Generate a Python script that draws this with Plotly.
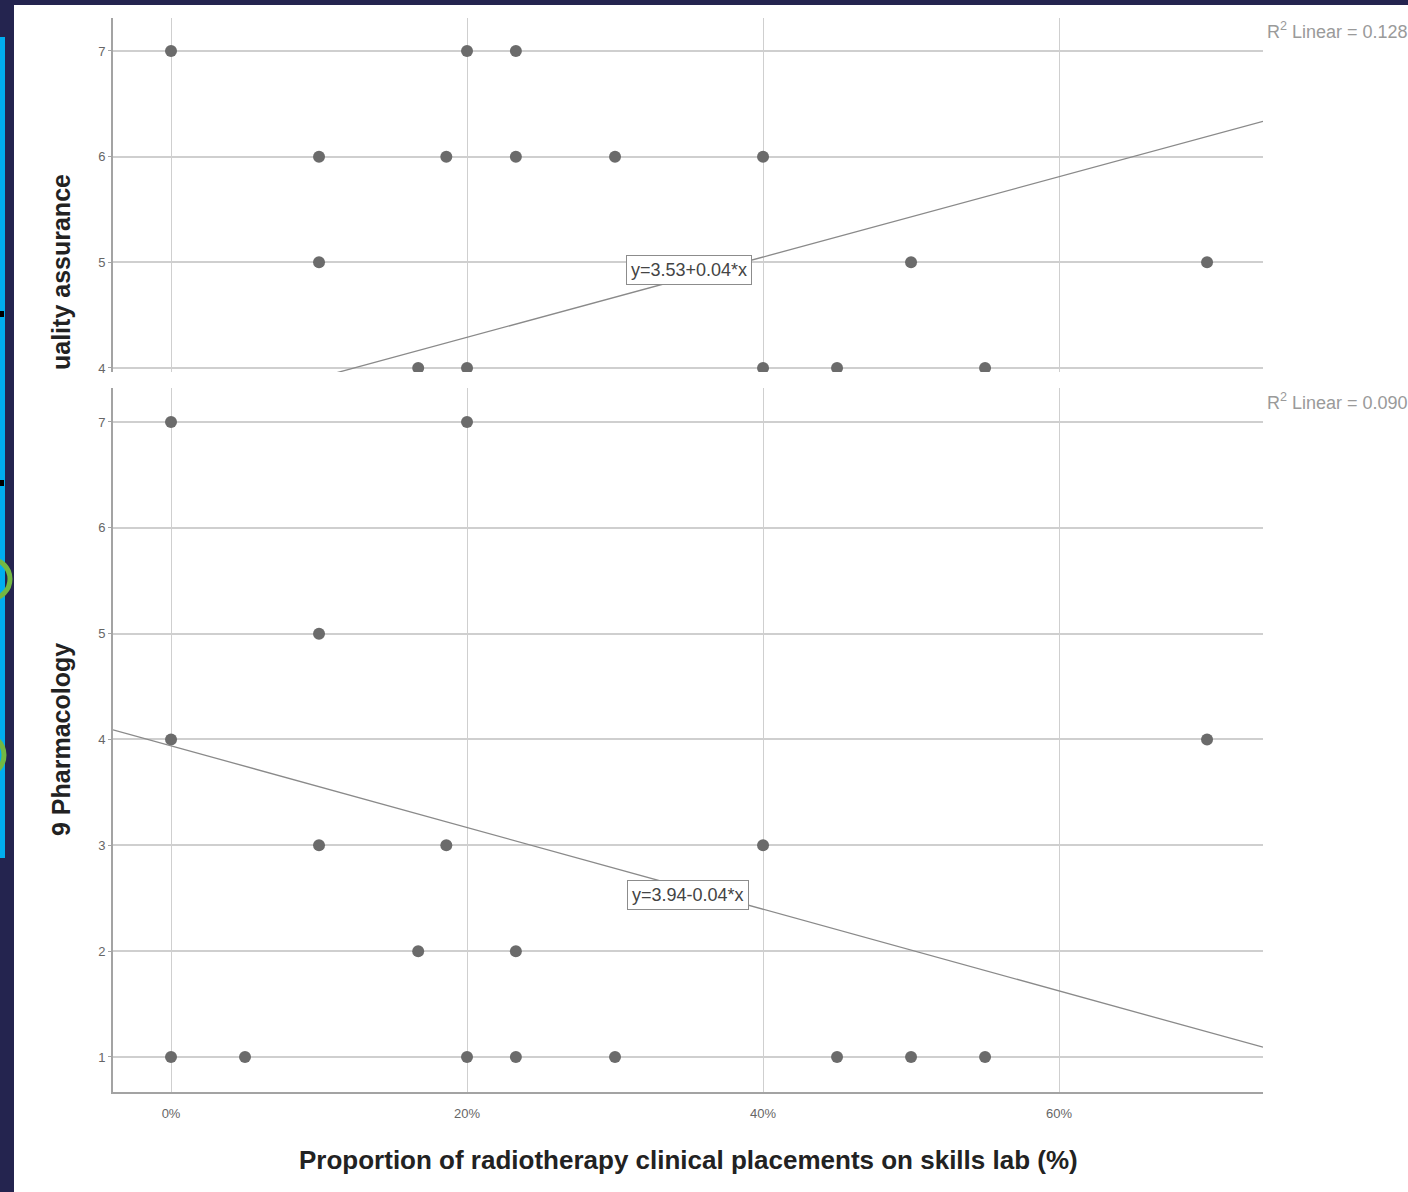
import numpy as np
import plotly.graph_objects as go

# ---------------- data ----------------
qa_x = [0, 20, 23.3, 10, 18.6, 23.3, 30, 40, 10, 50, 70, 16.7, 20, 40, 45, 55]
qa_y = [7, 7, 7, 6, 6, 6, 6, 6, 5, 5, 5, 4, 4, 4, 4, 4]

ph_x = [0, 20, 10, 0, 70, 10, 18.6, 40, 16.7, 23.3, 0, 5, 20, 23.3, 30, 45, 50, 55]
ph_y = [7, 7, 5, 4, 4, 3, 3, 3, 2, 2, 1, 1, 1, 1, 1, 1, 1, 1]

qa_fit = (3.53, 0.038)      # intercept, slope
ph_fit = (3.94, -0.0386)
qa_eq = "y=3.53+0.04*x"
ph_eq = "y=3.94-0.04*x"
qa_r2 = "R<sup>2</sup> Linear = 0.128"
ph_r2 = "R<sup>2</sup> Linear = 0.090"
qa_title = "uality assurance"
ph_title = "9 Pharmacology"
x_title = "Proportion of radiotherapy clinical placements on skills lab (%)"
x_ticks = [0, 20, 40, 60]
x_ticktext = ["0%", "20%", "40%", "60%"]
y_ticks = [1, 2, 3, 4, 5, 6, 7]

# ---------------- layout geometry ----------------
W, H = 1408, 1192
L, R, T, B = 113, 145, 18, 100
PW, PH = W - L - R, H - T - B


def px(x):
    return (x - L) / PW


def py(y):
    return (H - B - y) / PH


XR = [-3.92, 73.78]
MARK = "#6b6b6b"
GRID = "#cfcfcf"
AX = "#a3a3a3"
FONT = "Liberation Sans, Arial, sans-serif"

fig = go.Figure()

fig.add_trace(go.Scatter(x=qa_x, y=qa_y, mode="markers",
                         marker=dict(size=12, color=MARK),
                         xaxis="x2", yaxis="y2", showlegend=False))
fig.add_trace(go.Scatter(x=ph_x, y=ph_y, mode="markers",
                         marker=dict(size=12, color=MARK),
                         xaxis="x", yaxis="y", showlegend=False))

lx = np.array(XR)
fig.add_trace(go.Scatter(x=lx, y=qa_fit[0] + qa_fit[1] * lx, mode="lines",
                         line=dict(color="#8a8a8a", width=1.3),
                         xaxis="x2", yaxis="y2", showlegend=False))
fig.add_trace(go.Scatter(x=lx, y=ph_fit[0] + ph_fit[1] * lx, mode="lines",
                         line=dict(color="#8a8a8a", width=1.3),
                         xaxis="x", yaxis="y", showlegend=False))

axis_common = dict(showgrid=True, gridcolor=GRID, zeroline=False,
                   tickfont=dict(family=FONT, size=13, color="#666"))

fig.update_layout(
    width=W, height=H,
    margin=dict(l=L, r=R, t=T, b=B),
    paper_bgcolor="white", plot_bgcolor="white",
    font=dict(family=FONT),
    xaxis=dict(domain=[0, 1], range=XR, tickmode="array", tickvals=x_ticks,
               ticktext=x_ticktext,
               gridwidth=1, showline=True, linecolor=AX, linewidth=2,
               ticks="", ticklabelstandoff=8, anchor="y", **axis_common),
    yaxis=dict(domain=[0, py(388)], range=[0.669, 7.321], tickvals=y_ticks,
               gridwidth=2, showline=True, linecolor=AX, linewidth=2,
               ticks="outside", ticklen=3, tickcolor=AX, anchor="x", **axis_common),
    xaxis2=dict(domain=[0, 1], range=XR, tickvals=x_ticks, showticklabels=False,
                gridwidth=1, showline=False, ticks="", anchor="y2", **axis_common),
    yaxis2=dict(domain=[py(372), 1], range=[3.962, 7.312], tickvals=[4, 5, 6, 7],
                gridwidth=2, showline=True, linecolor=AX, linewidth=2,
                ticks="outside", ticklen=3, tickcolor=AX, anchor="x2", **axis_common),
)

ann = []
# equation boxes
ann.append(dict(x=34.97, y=4.923, xref="x2", yref="y2", text=qa_eq, showarrow=False,
                font=dict(family=FONT, size=18, color="#444"),
                bgcolor="white", bordercolor="#8c8c8c", borderwidth=1, borderpad=4))
ann.append(dict(x=34.93, y=2.535, xref="x", yref="y", text=ph_eq, showarrow=False,
                font=dict(family=FONT, size=18, color="#444"),
                bgcolor="white", bordercolor="#8c8c8c", borderwidth=1, borderpad=4))
# R2 labels
ann.append(dict(x=px(1265), y=py(31), xref="paper", yref="paper", text=qa_r2,
                showarrow=False, xanchor="left", yanchor="middle",
                font=dict(family=FONT, size=18, color="#9a9a9a")))
ann.append(dict(x=px(1265), y=py(402), xref="paper", yref="paper", text=ph_r2,
                showarrow=False, xanchor="left", yanchor="middle",
                font=dict(family=FONT, size=18, color="#9a9a9a")))
# y titles
ann.append(dict(x=px(61), y=py(372), xref="paper", yref="paper", text="<b>" + qa_title + "</b>",
                showarrow=False, textangle=-90, xanchor="center", yanchor="bottom",
                font=dict(family=FONT, size=25, color="#222")))
ann.append(dict(x=px(61), y=py(740), xref="paper", yref="paper", text="<b>" + ph_title + "</b>",
                showarrow=False, textangle=-90, xanchor="center", yanchor="middle",
                font=dict(family=FONT, size=25, color="#222")))
# x title
ann.append(dict(x=px(688), y=py(1160), xref="paper", yref="paper", text="<b>" + x_title + "</b>",
                showarrow=False, xanchor="center", yanchor="middle",
                font=dict(family=FONT, size=26, color="#222")))
fig.update_layout(annotations=ann)

# decorative frame
NAVY = "#24244f"
shapes = [
    dict(type="rect", xref="paper", yref="paper", x0=px(0), x1=px(14), y0=py(H), y1=py(0),
         fillcolor=NAVY, line_width=0, layer="above"),
    dict(type="rect", xref="paper", yref="paper", x0=px(0), x1=px(W), y0=py(5), y1=py(0),
         fillcolor=NAVY, line_width=0, layer="above"),
    dict(type="rect", xref="paper", yref="paper", x0=px(0), x1=px(5), y0=py(858), y1=py(37),
         fillcolor="#00aeef", line_width=0, layer="above"),
    dict(type="rect", xref="paper", yref="paper", x0=px(0), x1=px(4), y0=py(317), y1=py(311),
         fillcolor="#000000", line_width=0, layer="above"),
    dict(type="rect", xref="paper", yref="paper", x0=px(0), x1=px(4), y0=py(486), y1=py(480),
         fillcolor="#000000", line_width=0, layer="above"),
    dict(type="circle", xref="paper", yref="paper", x0=px(-30), x1=px(10), y0=py(599), y1=py(559),
         line=dict(color="#72b843", width=5), layer="above"),
    dict(type="circle", xref="paper", yref="paper", x0=px(-38), x1=px(4), y0=py(776), y1=py(734),
         line=dict(color="#72b843", width=5), layer="above"),
]
fig.update_layout(shapes=shapes)

fig.write_html("out.html", config={"displayModeBar": False},
               post_script="document.body.style.margin='0';document.body.style.padding='0';")
